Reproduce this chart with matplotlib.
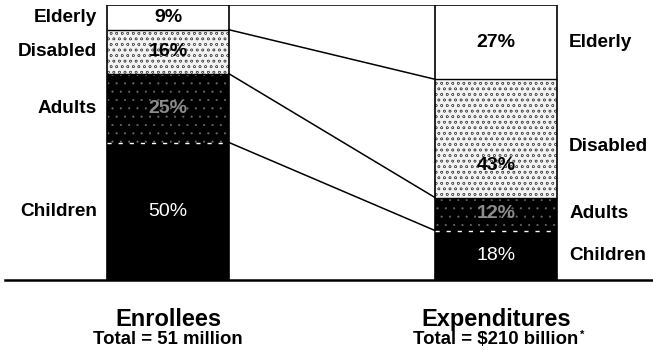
import numpy as np
import matplotlib.pyplot as plt

plt.rcParams['font.family'] = ['Liberation Sans', 'DejaVu Sans']

# shares of each group (percent), listed bottom to top
groups = ["Children", "Adults", "Disabled", "Elderly"]
enrollees = [50, 25, 16, 9]
expenditures = [18, 12, 43, 27]
titles = ["Enrollees", "Expenditures"]
subtitles = ["Total = 51 million", "Total = \\$210 billion"]

# look of each stacked segment
faces = ["black", "black", "#f2f2f2", "white"]
hatches = [None, "..", "ooo", None]
hatch_lw = [1.0, 0.3, 0.35, 1.0]
hatch_cols = ["black", "#6a6a6a", "#555555", "black"]
text_cols = ["white", "#8c8c8c", "black", "black"]
text_weights = ["normal", "bold", "bold", "bold"]

fig = plt.figure(figsize=(6.53, 3.51), dpi=100)
ax = fig.add_axes([5 / 653, 71 / 351, 648 / 653, 275 / 351])

xpos = [0, 1]
width = 0.372
series = [enrollees, expenditures]

for x, vals in zip(xpos, series):
    bottoms = np.concatenate([[0], np.cumsum(vals)[:-1]])
    for i, (v, b) in enumerate(zip(vals, bottoms)):
        plt.rcParams['hatch.linewidth'] = hatch_lw[i]
        ax.bar(x, v, width, bottom=b, color=faces[i], hatch=hatches[i],
               edgecolor=hatch_cols[i], linewidth=0)
        # white dashed boundary between children and adults
        if i == 1:
            ax.hlines(b, x - width / 2, x + width / 2, colors="white",
                      linestyles=(0, (3, 5)), linewidth=1)
        # percent label inside the segment
        ytxt = b + v / 2
        if x == 1 and groups[i] == "Disabled":
            ytxt -= 10
        ax.text(x, ytxt, f"{v}%", ha="center", va="center",
                color=text_cols[i], fontsize=14, fontweight=text_weights[i])
        # group name beside the bar
        if x == 0:
            ax.text(x - width / 2 - 0.03, b + v / 2, groups[i], ha="right",
                    va="center", fontsize=13.7, fontweight="bold")
        else:
            ylab = b + v / 2
            if groups[i] == "Disabled":
                ylab -= 3
            ax.text(x + width / 2 + 0.037, ylab, groups[i], ha="left",
                    va="center", fontsize=13.7, fontweight="bold")
    # outline of the whole bar and segment edges
    ax.bar(x, sum(vals), width, fill=False, edgecolor="black", linewidth=1.2)
    for b in np.cumsum(vals)[1:-1]:
        ax.hlines(b, x - width / 2, x + width / 2, colors="black", linewidth=1)

# connectors between matching boundaries
cum_l = np.cumsum(enrollees)
cum_r = np.cumsum(expenditures)
for yl, yr in zip(cum_l, cum_r):
    ax.plot([xpos[0] + width / 2, xpos[1] - width / 2], [yl, yr],
            color="black", linewidth=1.1)

# titles beneath each bar
for x, t, s in zip(xpos, titles, subtitles):
    ax.text(x, -0.145, t, transform=ax.get_xaxis_transform(), ha="center",
            va="center", fontsize=17, fontweight="bold")
    ax.text(x, -0.215, s, transform=ax.get_xaxis_transform(), ha="center",
            va="center", fontsize=13.4, fontweight="bold")
ax.text(1.255, -0.198, "*", transform=ax.get_xaxis_transform(), ha="left",
        va="center", fontsize=8, fontweight="bold")

ax.set_xlim(-0.497, 1.479)
ax.set_ylim(0, 100)
for side in ["top", "right", "left"]:
    ax.spines[side].set_visible(False)
ax.spines["bottom"].set_linewidth(1.8)
ax.set_xticks([])
ax.set_yticks([])

plt.savefig("out.png", dpi=100)
